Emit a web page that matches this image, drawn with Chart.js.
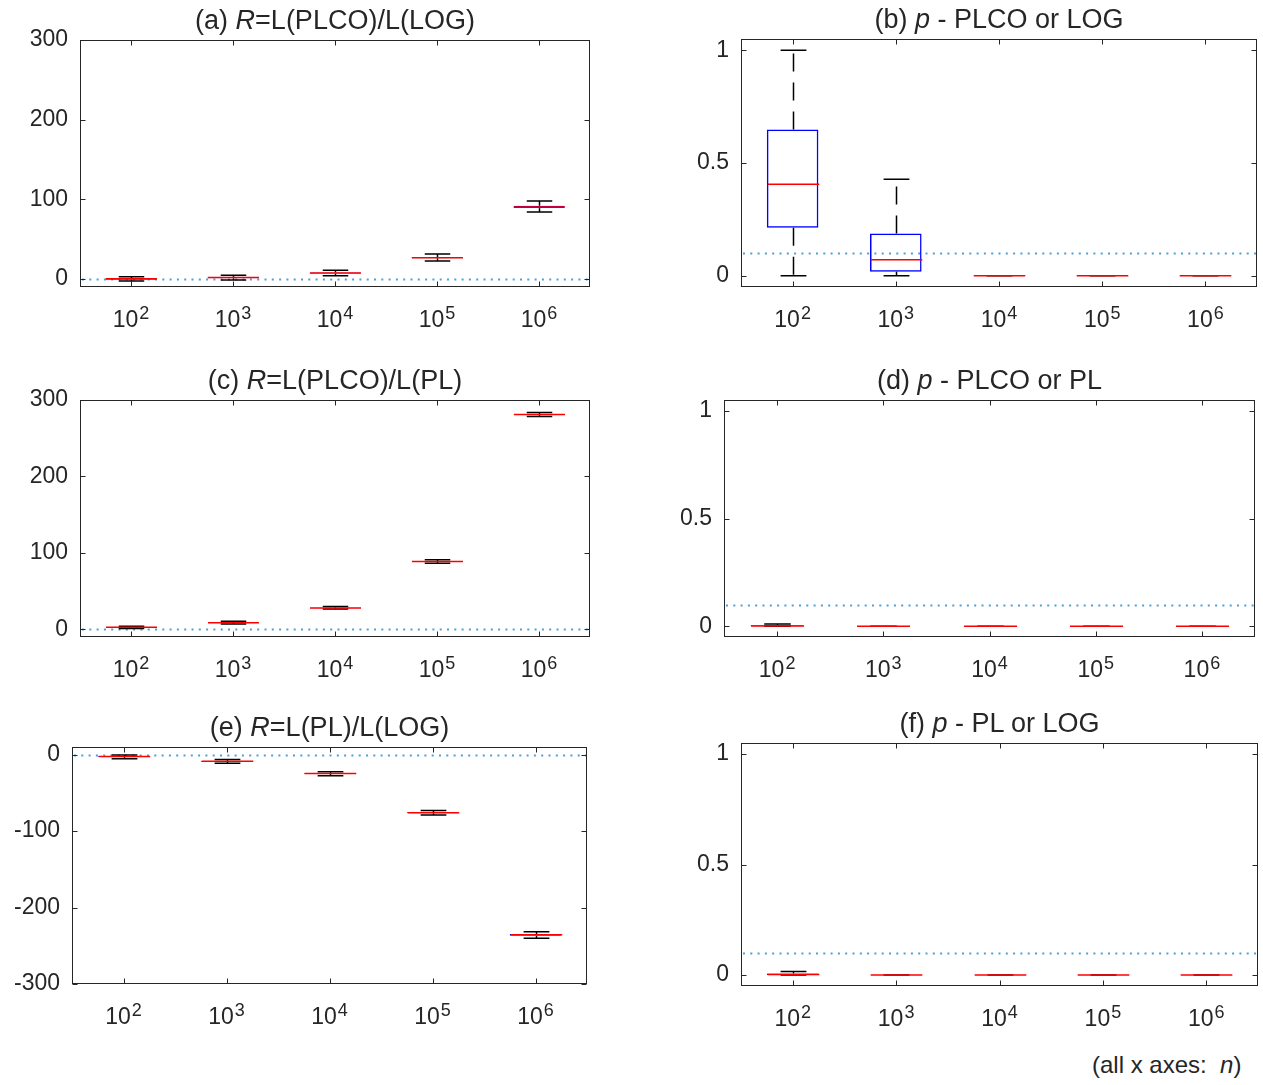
<!DOCTYPE html>
<html><head><meta charset="utf-8">
<script src="https://cdn.jsdelivr.net/npm/chart.js@4/dist/chart.umd.min.js"></script>
<style>
body{margin:0;background:#fff;width:1263px;height:1085px;position:relative;overflow:hidden;font-family:"Liberation Sans",Arial,sans-serif;color:#262626}
canvas{position:absolute}
.ttl{position:absolute;font-size:27px;white-space:nowrap;transform:translate(-50%,-50%);line-height:1}
.note{position:absolute;font-size:24px;left:1092px;top:1053px;white-space:nowrap;line-height:1}
</style></head><body>
<script>
// ---------- data ----------
const categories = ['1e2','1e3','1e4','1e5','1e6'];
const tickBase = '10';
const exponents = ['2','3','4','5','6'];

const ticksR = [0,100,200,300];
const ticksE = [-300,-200,-100,0];
const ticksP = [0,0.5,1];
const rangeR = [-10,300];
const rangeE = [-300,10];
const rangeP = [-0.05,1.05];
const refR = 0;
const refP = 0.1;

// (a) R = L(PLCO)/L(LOG)
const aLow  = [-2.5, -1.2,  4.0, 22.5,  84.0];
const aQ1   = [-0.8,  1.0,  6.8, 26.0,  89.0];
const aMed  = [ 0.2,  1.8,  7.5, 26.8,  90.5];
const aQ3   = [ 1.2,  2.6,  8.3, 27.6,  92.0];
const aHigh = [ 3.0,  4.6, 11.0, 31.5,  98.0];
// (b) p - PLCO or LOG
const bLow  = [0, 0, 0, 0, 0];
const bQ1   = [0.213, 0.018, 0, 0, 0];
const bMed  = [0.406, 0.071, 0, 0, 0];
const bQ3   = [0.649, 0.187, 0, 0, 0];
const bHigh = [1.000, 0.428, 0, 0, 0];
// (c) R = L(PLCO)/L(PL)
const cLow  = [1.2,  7.0, 26.5, 86.5, 278.5];
const cQ1   = [2.3,  8.4, 27.7, 88.3, 280.5];
const cMed  = [2.6,  8.7, 28.0, 88.7, 281.0];
const cQ3   = [2.9,  9.0, 28.3, 89.1, 281.5];
const cHigh = [4.0, 10.5, 30.0, 91.0, 283.5];
// (d) p - PLCO or PL
const dLow  = [0, 0, 0, 0, 0];
const dQ1   = [0, 0, 0, 0, 0];
const dMed  = [0.001, 0, 0, 0, 0];
const dQ3   = [0.004, 0, 0, 0, 0];
const dHigh = [0.010, 0, 0, 0, 0];
// (e) R = L(PL)/L(LOG)
const eLow  = [-5.5, -11.3, -27.5, -79.0, -240.0];
const eQ1   = [-3.0,  -9.3, -25.0, -76.6, -237.0];
const eMed  = [-2.5,  -8.8, -24.5, -76.0, -235.5];
const eQ3   = [-2.0,  -8.3, -24.0, -75.4, -234.5];
const eHigh = [-0.5,  -6.2, -22.4, -73.0, -231.5];
// (f) p - PL or LOG
const fLow  = [0, 0, 0, 0, 0];
const fQ1   = [0, 0, 0, 0, 0];
const fMed  = [0.002, 0, 0, 0, 0];
const fQ3   = [0.007, 0, 0, 0, 0];
const fHigh = [0.016, 0, 0, 0, 0];

// ---------- layout ----------
const FONT = '"Liberation Sans", Arial, sans-serif';
const AXIS = '#262626';
const PAD_T = 40, PAD_R = 8, X_H = 62;
const LW = 1.5;

const panels = [
  {title:'(a) <i>R</i>=L(PLCO)/L(LOG)', canvasLeft:0,   plotLeft:80,  plotTop:40,  plotRight:590,  plotBottom:287, range:rangeR, yTicks:ticksR, ref:refR, low:aLow, q1:aQ1, med:aMed, q3:aQ3, high:aHigh},
  {title:'(b) <i>p</i> - PLCO or LOG',   canvasLeft:640, plotLeft:741, plotTop:39,  plotRight:1257, plotBottom:287, range:rangeP, yTicks:ticksP, ref:refP, low:bLow, q1:bQ1, med:bMed, q3:bQ3, high:bHigh},
  {title:'(c) <i>R</i>=L(PLCO)/L(PL)',  canvasLeft:0,   plotLeft:80,  plotTop:400, plotRight:590,  plotBottom:637, range:rangeR, yTicks:ticksR, ref:refR, low:cLow, q1:cQ1, med:cMed, q3:cQ3, high:cHigh},
  {title:'(d) <i>p</i> - PLCO or PL',    canvasLeft:640, plotLeft:724, plotTop:400, plotRight:1255, plotBottom:637, range:rangeP, yTicks:ticksP, ref:refP, low:dLow, q1:dQ1, med:dMed, q3:dQ3, high:dHigh},
  {title:'(e) <i>R</i>=L(PL)/L(LOG)',   canvasLeft:0,   plotLeft:72,  plotTop:747, plotRight:587,  plotBottom:984, range:rangeE, yTicks:ticksE, ref:refR, low:eLow, q1:eQ1, med:eMed, q3:eQ3, high:eHigh},
  {title:'(f) <i>p</i> - PL or LOG',     canvasLeft:640, plotLeft:741, plotTop:743, plotRight:1258, plotBottom:986, range:rangeP, yTicks:ticksP, ref:refP, low:fLow, q1:fQ1, med:fMed, q3:fQ3, high:fHigh}
];

function boxPlugin(p) {
  return {
    id: 'boxParts',
    beforeDatasetsDraw(chart) {
      const ctx = chart.ctx, ys = chart.scales.y, a = chart.chartArea;
      const y = Math.round(ys.getPixelForValue(p.ref)) + 0.5;
      ctx.save();
      ctx.strokeStyle = '#4f9fd6';
      ctx.lineWidth = 2;
      ctx.setLineDash([2, 5.3]);
      ctx.beginPath(); ctx.moveTo(a.left + 2, y); ctx.lineTo(a.right, y); ctx.stroke();
      ctx.restore();
    },
    afterDatasetsDraw(chart) {
      const ctx = chart.ctx, xs = chart.scales.x, ys = chart.scales.y;
      const meta = chart.getDatasetMeta(0);
      ctx.save();
      ctx.lineWidth = LW;
      for (let i = 0; i < categories.length; i++) {
        const x = Math.round(xs.getPixelForValue(i)) + 0.5;
        const bw = meta.data[i].width;
        const yq1 = ys.getPixelForValue(p.q1[i]), yq3 = ys.getPixelForValue(p.q3[i]);
        const ylo = ys.getPixelForValue(p.low[i]), yhi = ys.getPixelForValue(p.high[i]);
        const ymd = ys.getPixelForValue(p.med[i]);
        // whiskers (dashed, starting at box edge)
        ctx.strokeStyle = '#000';
        ctx.setLineDash([18, 11]);
        ctx.beginPath(); ctx.moveTo(x, yq3); ctx.lineTo(x, yhi); ctx.stroke();
        ctx.beginPath(); ctx.moveTo(x, yq1); ctx.lineTo(x, ylo); ctx.stroke();
        ctx.setLineDash([]);
        // caps
        ctx.beginPath();
        ctx.moveTo(x - bw / 4, yhi); ctx.lineTo(x + bw / 4, yhi);
        ctx.moveTo(x - bw / 4, ylo); ctx.lineTo(x + bw / 4, ylo);
        ctx.stroke();
        // median
        ctx.strokeStyle = '#ff0000';
        ctx.beginPath(); ctx.moveTo(x - bw / 2, ymd); ctx.lineTo(x + bw / 2, ymd); ctx.stroke();
      }
      ctx.restore();
    },
    afterDraw(chart) {
      const ctx = chart.ctx, xs = chart.scales.x, ys = chart.scales.y, a = chart.chartArea;
      const L = Math.round(a.left) + 0.5, R = Math.round(a.right) - 0.5;
      const T = Math.round(a.top) + 0.5, B = Math.round(a.bottom) - 0.5;
      ctx.save();
      ctx.strokeStyle = AXIS; ctx.lineWidth = 1;
      ctx.strokeRect(L, T, R - L, B - T);
      ctx.beginPath();
      p.yTicks.forEach(v => {
        const y = Math.round(ys.getPixelForValue(v)) + 0.5;
        ctx.moveTo(L, y); ctx.lineTo(L + 5, y);
        ctx.moveTo(R, y); ctx.lineTo(R - 5, y);
      });
      for (let i = 0; i < categories.length; i++) {
        const x = Math.round(xs.getPixelForValue(i)) + 0.5;
        ctx.moveTo(x, B); ctx.lineTo(x, B - 5);
        ctx.moveTo(x, T); ctx.lineTo(x, T + 5);
      }
      ctx.stroke();
      // x tick labels: 10 with superscript exponent
      ctx.fillStyle = AXIS;
      ctx.textBaseline = 'alphabetic';
      ctx.textAlign = 'left';
      for (let i = 0; i < categories.length; i++) {
        const x = xs.getPixelForValue(i);
        ctx.font = '23px ' + FONT;
        const w1 = ctx.measureText(tickBase).width;
        ctx.font = '18px ' + FONT;
        const w2 = ctx.measureText(exponents[i]).width;
        const start = x - (w1 + w2 + 1) / 2;
        const base = a.bottom + 40;
        ctx.font = '23px ' + FONT;
        ctx.fillText(tickBase, start, base);
        ctx.font = '18px ' + FONT;
        ctx.fillText(exponents[i], start + w1 + 1, base - 8);
      }
      ctx.restore();
    }
  };
}

panels.forEach(p => {
  const cv = document.createElement('canvas');
  const cw = p.plotRight - p.canvasLeft + PAD_R;
  const ch = PAD_T + (p.plotBottom - p.plotTop) + X_H;
  cv.width = cw; cv.height = ch;
  cv.style.left = p.canvasLeft + 'px';
  cv.style.top = (p.plotTop - PAD_T) + 'px';
  cv.style.width = cw + 'px'; cv.style.height = ch + 'px';
  document.body.appendChild(cv);
  const yW = p.plotLeft - p.canvasLeft;

  const t = document.createElement('div');
  t.className = 'ttl';
  t.innerHTML = p.title;
  t.style.left = ((p.plotLeft + p.plotRight) / 2) + 'px';
  t.style.top = (p.plotTop - 20) + 'px';
  document.body.appendChild(t);

  new Chart(cv, {
    type: 'bar',
    data: {
      labels: categories,
      datasets: [{
        data: p.q1.map((v, i) => [v, p.q3[i]]),
        backgroundColor: 'rgba(0,0,0,0)',
        borderColor: '#0000ff',
        borderWidth: LW,
        borderSkipped: false,
        barPercentage: 0.5,
        categoryPercentage: 1
      }]
    },
    options: {
      responsive: false,
      animation: false,
      devicePixelRatio: 1,
      layout: {padding: {top: PAD_T, right: PAD_R, left: 0, bottom: 0}},
      plugins: {legend: {display: false}, tooltip: {enabled: false}, title: {display: false}},
      scales: {
        x: {
          type: 'category', offset: true,
          grid: {display: false, drawTicks: false}, border: {display: false},
          ticks: {display: false},
          afterFit(s) { s.height = X_H; }
        },
        y: {
          type: 'linear', min: p.range[0], max: p.range[1],
          grid: {display: false, drawTicks: false}, border: {display: false},
          afterBuildTicks(s) { s.ticks = p.yTicks.map(v => ({value: v})); },
          ticks: {font: {family: FONT, size: 23}, color: AXIS, padding: 12, callback: v => String(v)},
          afterFit(s) { s.width = yW; }
        }
      }
    },
    plugins: [boxPlugin(p)]
  });
});

const note = document.createElement('div');
note.className = 'note';
note.innerHTML = '(all x axes:&nbsp; <i>n</i>)';
document.body.appendChild(note);
</script>
</body></html>
